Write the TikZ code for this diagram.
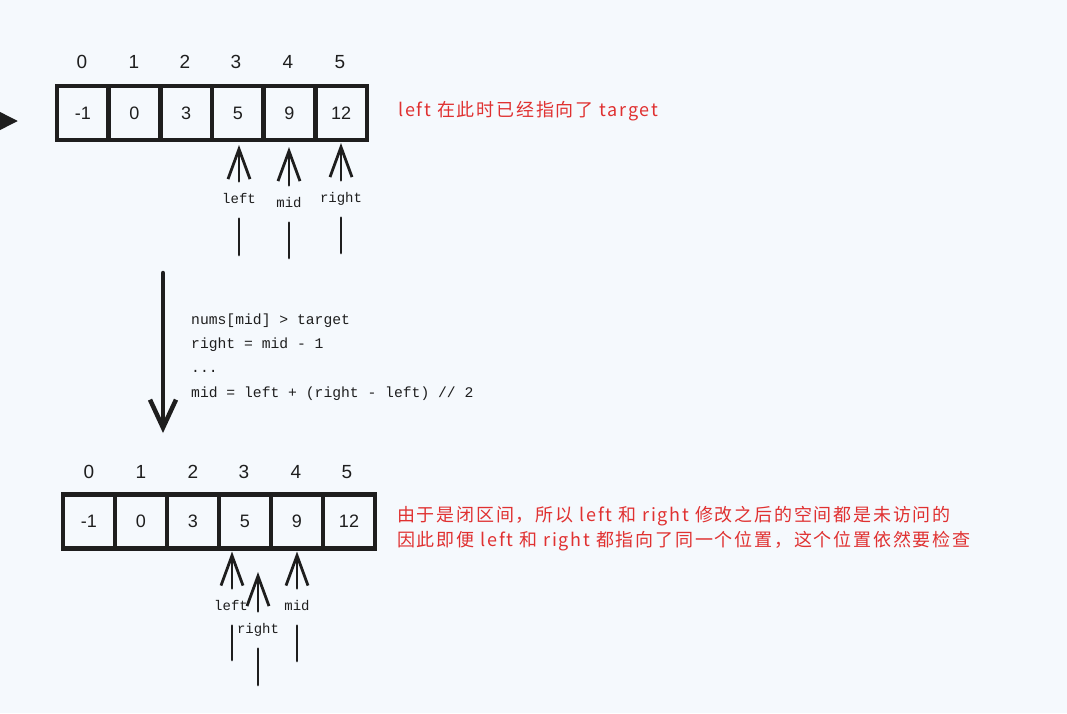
\documentclass[tikz,border=0pt]{standalone}
\usepackage{fontspec}
\setmainfont{Liberation Sans}
\setmonofont{Liberation Mono}
\newfontfamily\cjk[LetterSpace=10]{Noto Sans CJK SC}
\usepackage{tikz}
\usetikzlibrary{arrows.meta,positioning}
\definecolor{bgblue}{RGB}{245,249,253}
\definecolor{ink}{RGB}{30,30,30}
\definecolor{notered}{RGB}{224,49,49}

\begin{document}
\begin{tikzpicture}[x=1pt, y=-1pt,
  every node/.style={text=ink},
  cell/.style={draw=ink, line width=4.5pt, minimum width=51.7pt, minimum height=54pt, inner sep=0pt, outer sep=0pt, font=\fontsize{18}{20}\selectfont},
  idx/.style={font=\fontsize{19}{20}\selectfont},
  lbl/.style={font=\ttfamily\fontsize{14}{15}\selectfont, inner sep=1pt, text height=10pt, text depth=3pt},
  ptr/.style={draw=ink, line width=2.8pt, line cap=round, shorten <=11pt, -{Straight Barb[length=30pt,width=22pt]}},
  stub/.style={draw=ink, line width=2.8pt, line cap=round, shorten >=11pt},
  code/.style={font=\ttfamily\fontsize{14.7}{24.3}\selectfont, align=left, inner sep=0pt},
  note/.style={text=notered, font=\cjk\fontsize{18}{25}\selectfont, align=left, inner sep=0pt},
  flow/.style={draw=ink, line width=4.5pt, line cap=round, -{Straight Barb[length=28pt,width=26pt]}}
]
  \useasboundingbox (0,0) rectangle (1067,713);
  \fill[bgblue] (0,0) rectangle (1067,713);

  \coordinate (inL) at (-40,121);
  \coordinate (inR) at (18,121);
  \draw[draw=ink, line width=4pt, -{Triangle[length=21pt,width=20pt]}] (inL) -- (inR);

  \node[idx] (ti0) at (82,62) {0};
  \node[idx] (ti1) at (134,62) {1};
  \node[idx] (ti2) at (185,62) {2};
  \node[idx] (ti3) at (236,62) {3};
  \node[idx] (ti4) at (288,62) {4};
  \node[idx] (ti5) at (340,62) {5};

  \node[cell] (t0) at (82.8,113) {-1};
  \node[cell] (t1) at (134.5,113) {0};
  \node[cell] (t2) at (186.2,113) {3};
  \node[cell] (t3) at (237.8,113) {5};
  \node[cell] (t4) at (289.5,113) {9};
  \node[cell] (t5) at (341.2,113) {12};

  \node[lbl] (tl) at (239,200) {left};
  \node[lbl] (tm) at (289,204) {mid};
  \node[lbl] (tr) at (341,199) {right};
  \coordinate (tlb) at (239,255);
  \coordinate (tmb) at (289,258);
  \coordinate (trb) at (341,253);

  \draw[ptr] (tl.north) -- ([yshift=-5pt]tl.north |- t3.south);
  \draw[ptr] (tm.north) -- ([yshift=-7pt]tm.north |- t4.south);
  \draw[ptr] (tr.north) -- ([yshift=-3pt]tr.north |- t5.south);
  \draw[stub] (tlb) -- (tl.south);
  \draw[stub] (tmb) -- (tm.south);
  \draw[stub] (trb) -- (tr.south);

  \node[note, anchor=west] (n1) at (398,111) {left 在此时已经指向了 target};

  \coordinate (fTop) at (163,273);
  \coordinate (fBot) at (163,433);
  \draw[flow] (fTop) -- (fBot);

  \node[code, anchor=west] (code) at (191,357) {nums[mid] > target\\right = mid - 1\\...\\mid = left + (right - left) // 2};

  \node[idx] (bi0) at (89,472) {0};
  \node[idx] (bi1) at (141,472) {1};
  \node[idx] (bi2) at (193,472) {2};
  \node[idx] (bi3) at (244,472) {3};
  \node[idx] (bi4) at (296,472) {4};
  \node[idx] (bi5) at (347,472) {5};

  \node[cell, minimum width=52pt] (b0) at (89,521.5) {-1};
  \node[cell, minimum width=52pt] (b1) at (141,521.5) {0};
  \node[cell, minimum width=52pt] (b2) at (193,521.5) {3};
  \node[cell, minimum width=52pt] (b3) at (245,521.5) {5};
  \node[cell, minimum width=52pt] (b4) at (297,521.5) {9};
  \node[cell, minimum width=52pt] (b5) at (349,521.5) {12};

  \node[lbl] (bl) at (231,607) {left};
  \node[lbl] (br) at (258,630) {right};
  \node[lbl] (bm) at (297,607) {mid};
  \coordinate (blb) at (232,660);
  \coordinate (brb) at (258,685);
  \coordinate (bmb) at (297,661);
  \coordinate (brt) at (258,572);

  \draw[ptr] ([xshift=1pt]bl.north) -- ([xshift=1pt,yshift=-3pt]bl.north |- b3.south);
  \draw[ptr] (br.north) -- (brt);
  \draw[ptr] (bm.north) -- ([yshift=-3pt]bm.north |- b4.south);
  \draw[stub] (blb) -- ([xshift=1pt]bl.south);
  \draw[stub] (brb) -- (br.south);
  \draw[stub] (bmb) -- (bm.south);

  \node[note, anchor=west] (n2) at (397,528.5) {由于是闭区间，所以 left 和 right 修改之后的空间都是未访问的\\因此即便 left 和 right 都指向了同一个位置，这个位置依然要检查};
\end{tikzpicture}
\end{document}
